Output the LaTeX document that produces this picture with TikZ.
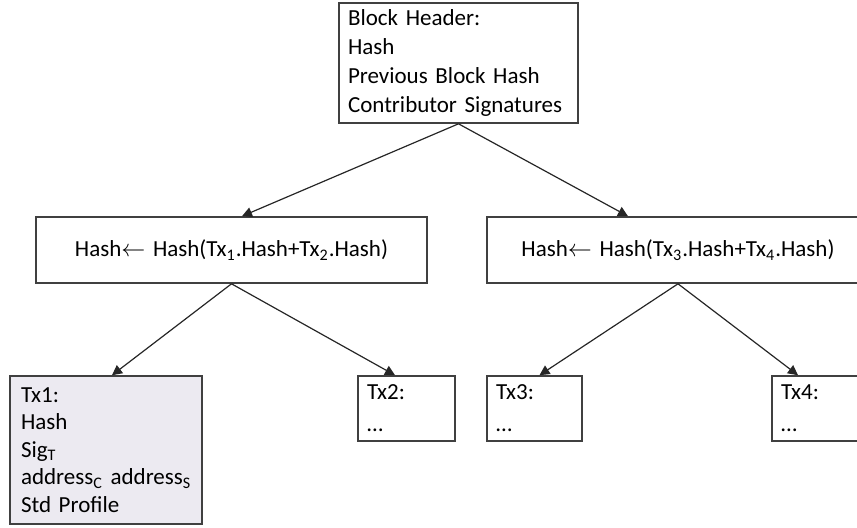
\documentclass[tikz,border=0pt]{standalone}
\usepackage{fontspec}
\setmainfont{Carlito}
\usetikzlibrary{calc}
\usetikzlibrary{arrows.meta}
\definecolor{txfill}{HTML}{ECEAF1}
\tikzset{
  blk/.style={draw=black!75, line width=0.8pt, align=left, inner xsep=4.5pt, inner ysep=0pt, font=\fontsize{11.5}{14}\selectfont},
  arr/.style={draw=black!85, line width=0.6pt, -{Triangle[length=5pt,width=5pt]}}
}
\begin{document}
\begin{tikzpicture}[x=0.5pt,y=-0.5pt]
\useasboundingbox (0,0) rectangle (857,527);
\clip (0,0) rectangle (857,527);
% block header
\node[blk, text width=110.5pt, minimum height=60pt, font=\fontsize{11.5}{14.5}\selectfont] (top) at (458.5,63)
  {Block Header:\\Hash\\Previous Block Hash\\Contributor Signatures};
% hash nodes
\node[blk, text width=186.5pt, minimum height=33pt, align=center] (hl) at (231.5,250)
  {Hash$\leftarrow$ Hash(Tx\textsubscript{1}.Hash+Tx\textsubscript{2}.Hash)};
\node[blk, text width=182pt, minimum height=33pt, align=center] (hr) at (678,250)
  {Hash$\leftarrow$ Hash(Tx\textsubscript{3}.Hash+Tx\textsubscript{4}.Hash)};
% transactions
\node[blk, fill=txfill, text width=87pt, minimum height=74pt, inner xsep=4.5pt, font=\fontsize{11.5}{13.8}\selectfont] (tx1) at (106,450)
  {\hspace*{1pt}Tx1:\\\hspace*{1pt}Hash\\\hspace*{1pt}Sig\textsubscript{T}\\\mbox{\hspace*{1pt}address\textsubscript{C} address\textsubscript{S}}\\\hspace*{1pt}Std Profile};
\node[blk, text width=39.5pt, minimum height=32.5pt, font=\fontsize{11.5}{16}\selectfont] (tx2) at (406.5,408.5) {Tx2:\\\dots};
\node[blk, text width=38.5pt, minimum height=32.5pt, font=\fontsize{11.5}{16}\selectfont] (tx3) at (534.5,408.5) {Tx3:\\\dots};
\node[blk, text width=40pt, minimum height=32.5pt, font=\fontsize{11.5}{16}\selectfont] (tx4) at (821,408.5) {Tx4:\\\dots};
\foreach \a/\b/\d in {top/hl/10.5, top/hr/-50, hl/tx1/6, hl/tx2/-11.5, hr/tx3/5, hr/tx4/-23}
  \draw[arr] (\a.south) -- ($(\b.north)+(\d,0)$);
\end{tikzpicture}
\end{document}
